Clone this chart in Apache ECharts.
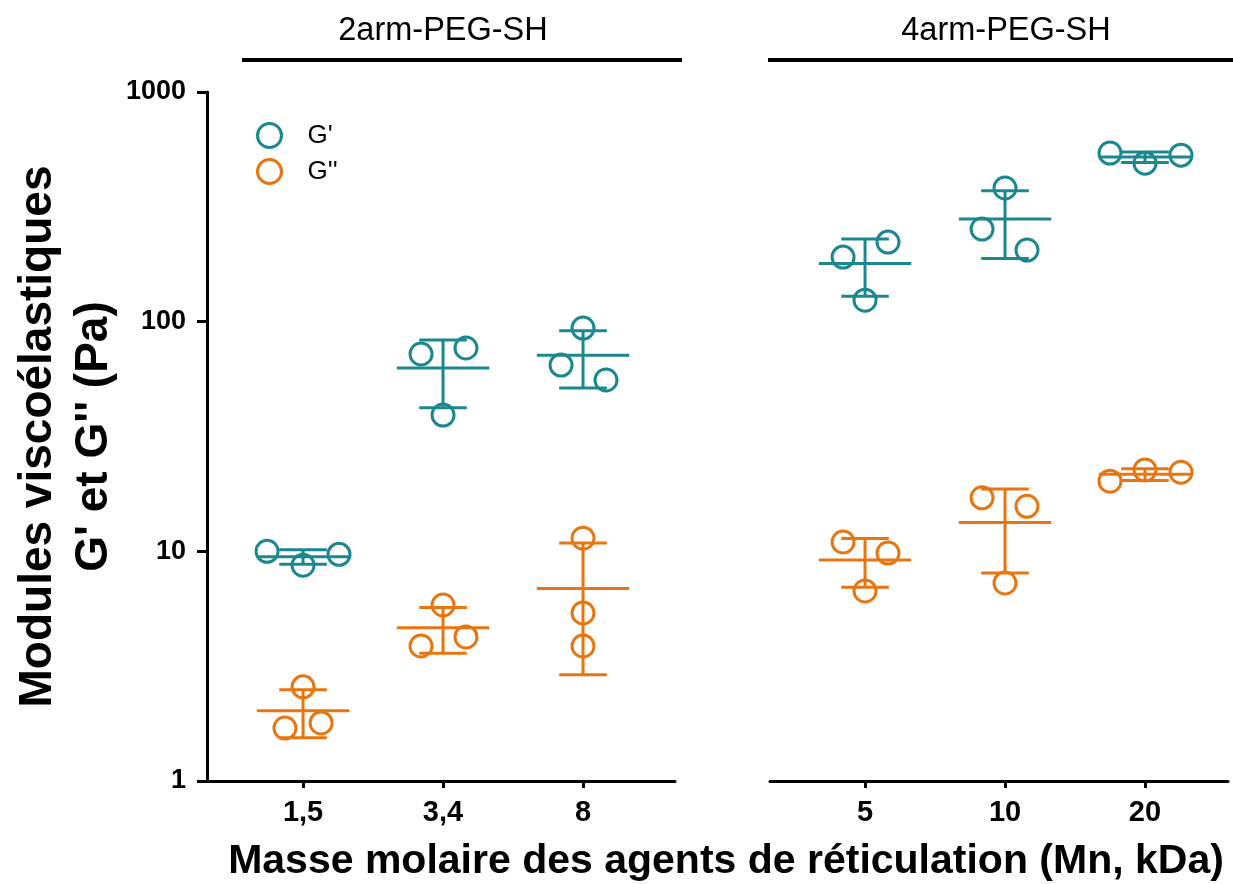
<!DOCTYPE html>
<html>
<head>
<meta charset="utf-8">
<script src="https://cdn.jsdelivr.net/npm/echarts@6/dist/echarts.min.js"></script>
<style>
  html, body { margin: 0; padding: 0; background: #fff; }
  #main { width: 1233px; height: 884px; }
</style>
</head>
<body>
<div id="main"></div>
<script>
// categories (Mn, kDa)
const cat2arm = ["1,5", "3,4", "8"];
const cat4arm = ["5", "10", "20"];

// G' and G'' replicates (Pa), one row per category
const gPrime2arm = [[10.0, 8.7, 9.7], [72.3, 76.8, 39.2], [93.8, 64.7, 55.7]];
const gSecond2arm = [[2.57, 1.70, 1.79], [5.84, 3.87, 4.24], [11.4, 5.39, 3.87]];
const gPrime4arm = [[191, 222, 124], [382, 253, 205], [542, 490, 531]];
const gSecond4arm = [[10.98, 9.83, 6.72], [17.1, 15.7, 7.28], [20.2, 22.6, 22.1]];

// horizontal jitter of each replicate (in category units)
const jitPrime2arm = [[-0.257, 0, 0.257], [-0.157, 0.164, 0], [0, -0.157, 0.164]];
const jitSecond2arm = [[0, -0.129, 0.129], [0, -0.157, 0.164], [0, 0, 0]];
const jitPrime4arm = [[-0.157, 0.164, 0], [0, -0.164, 0.157], [-0.25, 0, 0.257]];
const jitSecond4arm = [[-0.157, 0.164, 0], [-0.164, 0.157, 0], [-0.25, 0, 0.257]];

const yTicks = [1, 10, 100, 1000];

const teal = "#1b8890";
const orange = "#e8750f";
const font = "Liberation Sans";

function points(vals, jit) {
  const out = [];
  vals.forEach((row, i) => row.forEach((v, k) => out.push([i + jit[i][k], v])));
  return out;
}

// moyenne +/- SD
function stats(vals) {
  return vals.map((row, i) => {
    const m = row.reduce((a, b) => a + b, 0) / row.length;
    const sd = Math.sqrt(row.reduce((a, b) => a + (b - m) * (b - m), 0) / (row.length - 1));
    return [i, m, m - sd, m + sd];
  });
}

function scatter(name, idx, vals, jit, color) {
  return {
    name: name,
    type: "scatter",
    xAxisIndex: idx,
    yAxisIndex: idx,
    symbol: "circle",
    symbolSize: 22,
    itemStyle: { color: "rgba(0,0,0,0)", borderColor: color, borderWidth: 3, opacity: 1 },
    data: points(vals, jit),
    z: 3,
  };
}

function errorBars(name, idx, vals, color) {
  return {
    name: name,
    type: "custom",
    xAxisIndex: idx,
    yAxisIndex: idx,
    encode: { x: 0, y: [1, 2, 3] },
    data: stats(vals),
    renderItem: function (params, api) {
      const x = api.value(0), m = api.value(1), lo = api.value(2), hi = api.value(3);
      const style = { stroke: color, lineWidth: 3, lineCap: "butt" };
      const seg = (a, b) => ({ type: "line", shape: { x1: a[0], y1: a[1], x2: b[0], y2: b[1] }, style: style });
      return {
        type: "group",
        children: [
          seg(api.coord([x - 0.33, m]), api.coord([x + 0.33, m])),
          seg(api.coord([x, lo]), api.coord([x, hi])),
          seg(api.coord([x - 0.17, hi]), api.coord([x + 0.17, hi])),
          seg(api.coord([x - 0.17, lo]), api.coord([x + 0.17, lo])),
        ],
      };
    },
    z: 2,
  };
}

function xAxis(idx, min, max, cats) {
  return {
    gridIndex: idx,
    type: "value",
    min: min,
    max: max,
    axisLine: { show: true, onZero: false, lineStyle: { color: "#000", width: 3 } },
    axisTick: { show: true, customValues: [0, 1, 2], length: 7, lineStyle: { color: "#000", width: 3 } },
    axisLabel: {
      customValues: [0, 1, 2],
      formatter: (v) => cats[Math.round(v)],
      color: "#000", fontSize: 29, fontWeight: "bold", fontFamily: font, margin: 17,
    },
    splitLine: { show: false },
  };
}

const chart = echarts.init(document.getElementById("main"));
chart.setOption({
  animation: false,
  backgroundColor: "#fff",
  grid: [
    { left: 207, top: 92, width: 468, height: 689, outerBoundsMode: "none", containLabel: false },
    { left: 770, top: 92, width: 458, height: 689, outerBoundsMode: "none", containLabel: false },
  ],
  xAxis: [xAxis(0, -0.686, 2.657, cat2arm), xAxis(1, -0.679, 2.593, cat4arm)],
  yAxis: [
    {
      gridIndex: 0,
      type: "log",
      logBase: 10,
      min: yTicks[0],
      max: yTicks[yTicks.length - 1],
      axisLine: { show: true, onZero: false, lineStyle: { color: "#000", width: 3 } },
      axisTick: { show: true, length: 10, lineStyle: { color: "#000", width: 3 } },
      minorTick: { show: false },
      splitLine: { show: false },
      axisLabel: {
        formatter: (v) => String(v),
        color: "#000", fontSize: 27, fontWeight: "bold", fontFamily: font, margin: 21,
      },
      name: "Modules viscoélastiques\nG' et G'' (Pa)",
      nameLocation: "middle",
      nameRotate: 90,
      nameGap: 84,
      nameTextStyle: { color: "#000", fontSize: 46, fontWeight: "bold", fontFamily: font, lineHeight: 56 },
    },
    { gridIndex: 1, type: "log", logBase: 10, min: 1, max: 1000, show: false },
  ],
  legend: {
    left: 251,
    top: 117,
    orient: "vertical",
    itemWidth: 24,
    itemHeight: 24,
    itemGap: 9,
    textStyle: { color: "#000", fontSize: 26, fontFamily: font, padding: [0, 0, 0, 21] },
    data: [
      { name: "G'", icon: "circle", itemStyle: { color: "rgba(0,0,0,0)", borderColor: teal, borderWidth: 3 } },
      { name: "G''", icon: "circle", itemStyle: { color: "rgba(0,0,0,0)", borderColor: orange, borderWidth: 3 } },
    ],
  },
  graphic: [
    { type: "line", shape: { x1: 242, y1: 60, x2: 682, y2: 60 }, style: { stroke: "#000", lineWidth: 4 } },
    { type: "line", shape: { x1: 768, y1: 60, x2: 1233, y2: 60 }, style: { stroke: "#000", lineWidth: 4 } },
    { type: "text", x: 443, y: 31, style: { text: "2arm-PEG-SH", fill: "#000", font: "32.5px " + font, textAlign: "center", textVerticalAlign: "middle" } },
    { type: "text", x: 1006, y: 31, style: { text: "4arm-PEG-SH", fill: "#000", font: "32.5px " + font, textAlign: "center", textVerticalAlign: "middle" } },
    { type: "text", x: 726, y: 862, style: { text: "Masse molaire des agents de réticulation (Mn, kDa)", fill: "#000", font: "bold 41px " + font, textAlign: "center", textVerticalAlign: "middle" } },
  ],
  series: [
    errorBars("G'", 0, gPrime2arm, teal),
    errorBars("G''", 0, gSecond2arm, orange),
    errorBars("G'", 1, gPrime4arm, teal),
    errorBars("G''", 1, gSecond4arm, orange),
    scatter("G'", 0, gPrime2arm, jitPrime2arm, teal),
    scatter("G''", 0, gSecond2arm, jitSecond2arm, orange),
    scatter("G'", 1, gPrime4arm, jitPrime4arm, teal),
    scatter("G''", 1, gSecond4arm, jitSecond4arm, orange),
  ],
});
</script>
</body>
</html>
